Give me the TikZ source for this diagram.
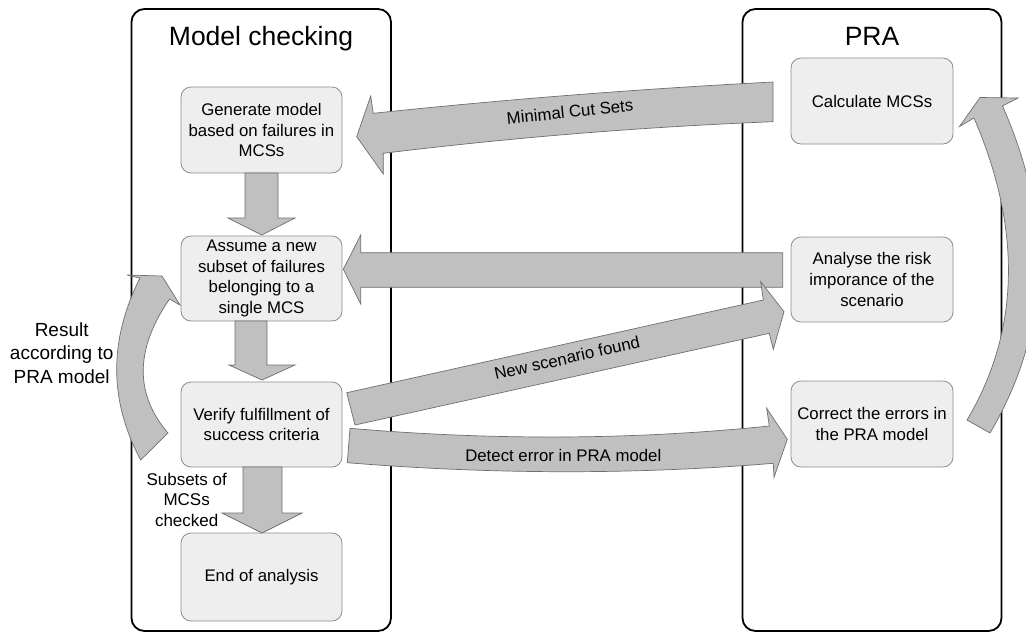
\documentclass[tikz,border=0pt]{standalone}
\usepackage{fontspec}
\setmainfont{Liberation Sans}
\definecolor{boxfill}{HTML}{EEEEEE}
\definecolor{boxline}{HTML}{8C8C8C}
\definecolor{arrfill}{HTML}{C0C0C0}
\definecolor{arrline}{HTML}{6E6E6E}
\begin{document}
\begin{tikzpicture}[x=1pt,y=-1pt,
  panel/.style={draw=black, line width=1.8pt, rounded corners=13pt},
  box/.style={draw=boxline, fill=boxfill, line width=0.8pt, rounded corners=10pt,
    minimum width=161pt, align=center, inner sep=2pt,
    font=\fontsize{16.8}{20.6}\selectfont},
  blk/.style={draw=arrline, fill=arrfill, line width=0.7pt, line join=miter},
  lbl/.style={font=\fontsize{16.8}{20.6}\selectfont, align=center, inner sep=0pt},
  ttl/.style={font=\fontsize{26.5}{30}\selectfont, anchor=base, inner sep=0pt}]
\useasboundingbox (0,0) rectangle (1026,633);
\clip (0,0) rectangle (1026,633);
% panels
\draw[panel] (131.5,9) rectangle (391,631);
\draw[panel] (742.5,9) rectangle (1001.5,631);
\node[ttl] (tmc) at (261,45) {Model checking};
\node[ttl] (tpra) at (872,45) {PRA};
% boxes
\node[box, minimum height=86pt] (gen) at (261.5,130) {Generate model\\based on failures in\\MCSs};
\node[box, minimum height=85pt] (asm) at (261.5,278.5) {Assume a new\\subset of failures\\belonging to a\\single MCS};
\node[box, minimum height=85pt] (ver) at (261.5,424.5) {Verify fulfillment of\\success criteria};
\node[box, minimum height=88pt] (end) at (261.5,577) {End of analysis};
\node[box, minimum height=86pt, minimum width=162pt] (calc) at (872,101) {Calculate MCSs};
\node[box, minimum height=85pt, minimum width=162pt] (ana) at (872,279.5) {Analyse the risk\\imporance of the\\scenario};
\node[box, minimum height=86pt, minimum width=162pt] (cor) at (872,424) {Correct the errors in\\the PRA model};
% vertical block arrows
\draw[blk] (245,173) -- (278,173) -- (278,218) -- (295,218) -- (261.7,235) -- (228,218) -- (245,218) -- cycle;
\draw[blk] (235,321) -- (267,321) -- (267,365) -- (295,365) -- (262,380) -- (229,365) -- (235,365) -- cycle;
\draw[blk] (243,467) -- (282,467) -- (282,513) -- (302,513) -- (262,533) -- (222,513) -- (243,513) -- cycle;
% Analyse -> Assume
\draw[blk] (782.7,252.7) -- (360.7,252.7) -- (360.7,235) -- (343.3,269.3) -- (360.7,304) -- (360.7,287.3) -- (782.7,287.3) -- cycle;
% Minimal Cut Sets
\draw[blk] (773,82) .. controls (639.7,88.9) and (506.3,99.3) .. (373.3,113.3) -- (370.7,96) -- (356.7,136.7) -- (383.3,174) -- (383.3,153.3) .. controls (513,137.4) and (643,126.9) .. (773,121.7) -- cycle;
% New scenario found
\draw[blk] (346.7,392.7) -- (763.3,300) -- (760.7,281.7) -- (784,311.7) -- (773.3,349.3) -- (769.3,333.3) -- (355,425) -- cycle;
% Detect error
\draw[blk] (350,428.3) .. controls (494.2,440.6) and (634,439.9) .. (769.3,426) -- (766.7,408.3) -- (787.3,439.3) -- (774,477.3) -- (773.3,463.3) .. controls (635.3,474.7) and (493.3,474.5) .. (347.3,462.7) -- cycle;
% left curved arrow
\draw[blk] (140.7,460) .. controls (108.9,400.7) and (108.7,340) .. (140,278) -- (127,275) -- (162,276) -- (180,305) -- (169.5,299) .. controls (135.1,349) and (134.4,394) .. (168,433) -- cycle;
% right curved arrow
\draw[blk] (967,420) .. controls (1020,331) and (1022,229) .. (974,118) -- (959.5,126.5) -- (980,97.5) -- (1018,98) -- (1002.5,106) .. controls (1054,222) and (1050,331) .. (990,433) -- cycle;
% labels
\node[lbl, rotate=6] (lmcs) at (570,111.7) {Minimal Cut Sets};
\node[lbl, rotate=12.5] (lnew) at (567,358) {New scenario found};
\node[lbl] (ldet) at (563.3,455) {Detect error in PRA model};
\node[lbl, font=\fontsize{19}{23.5}\selectfont] (lres) at (61.7,353) {Result\\according to\\PRA model};
\node[lbl, font=\fontsize{17}{20.5}\selectfont] (lsub) at (186.7,499.5) {Subsets of\\MCSs\\checked};
\end{tikzpicture}
\end{document}
